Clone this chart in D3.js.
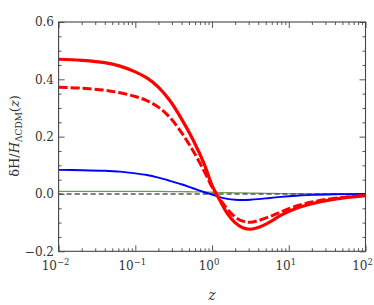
<!DOCTYPE html>
<html>
<head>
<meta charset="utf-8">
<script src="https://cdn.jsdelivr.net/npm/d3@7"></script>
<style>
  body { margin: 0; background: #fff; }
</style>
</head>
<body>
<svg id="chart" width="374" height="305"></svg>
<script>
// redshift grid (shared by all curves)
var zs = [0.01, 0.01995, 0.0398, 0.0631, 0.1, 0.1413, 0.1995, 0.2818, 0.3981, 0.5623, 0.7943, 1.0,
          1.259, 1.585, 1.995, 2.512, 3.162, 3.981, 5.623, 7.943, 12.59, 19.95, 39.81, 100]
var redSolid  = [0.470, 0.466, 0.458, 0.446, 0.426, 0.405, 0.373, 0.326, 0.263, 0.190, 0.103, 0.030,
                 -0.021, -0.068, -0.100, -0.118, -0.123, -0.117, -0.098, -0.074, -0.050, -0.034, -0.018, -0.006]
var redDashed = [0.372, 0.369, 0.362, 0.353, 0.340, 0.326, 0.303, 0.267, 0.215, 0.152, 0.078, 0.024,
                 -0.017, -0.053, -0.080, -0.095, -0.099, -0.093, -0.079, -0.062, -0.042, -0.028, -0.015, -0.005]
var blue      = [0.084, 0.083, 0.081, 0.078, 0.072, 0.066, 0.057, 0.046, 0.034, 0.020, 0.006, -0.002,
                 -0.011, -0.017, -0.020, -0.021, -0.020, -0.018, -0.014, -0.010, -0.006, -0.003, -0.001, 0]
var green     = [0.009, 0.009, 0.009, 0.009, 0.009, 0.009, 0.0088, 0.0085, 0.008, 0.0075, 0.007, 0.006,
                 0.005, 0.0045, 0.004, 0.0035, 0.003, 0.0025, 0.002, 0.0015, 0.001, 0.0006, 0.0003, 0]
var lcdm      = zs.map(function() { return 0 })

var xMajor = [0.01, 0.1, 1, 10, 100]
var xMajorExp = ["\u22122", "\u22121", "0", "1", "2"]
var yMajor = [-0.2, 0.0, 0.2, 0.4, 0.6]
var yMajorLabels = ["\u22120.2", "0.0", "0.2", "0.4", "0.6"]

var font = "DejaVu Serif"
var svg = d3.select("#chart")
var x = d3.scaleLog().domain([0.01, 100]).range([58.6, 365.5])
var y = d3.scaleLinear().domain([-0.2, 0.6]).range([251.3, 22])
var ink = "#444"

// minor ticks
var xMinor = []
xMajor.slice(0, -1).forEach(function(d) {
  for (var k = 2; k < 10; k++) xMinor.push(d * k)
})
var yMinor = d3.range(-0.2, 0.6001, 0.05).filter(function(v) {
  return Math.abs(v * 5 - Math.round(v * 5)) > 1e-6
})

function frameAxis(axis, transform, size, values) {
  var g = svg.append("g").attr("transform", transform)
    .call(axis.tickValues(values).tickSize(size).tickFormat(""))
  g.select(".domain").remove()
  g.selectAll("line").attr("stroke", ink).attr("stroke-width", 0.9)
}
frameAxis(d3.axisBottom(x), "translate(0,251.3)", -6, xMajor)
frameAxis(d3.axisBottom(x), "translate(0,251.3)", -3, xMinor)
frameAxis(d3.axisTop(x), "translate(0,22)", -6, xMajor)
frameAxis(d3.axisTop(x), "translate(0,22)", -3, xMinor)
frameAxis(d3.axisLeft(y), "translate(58.6,0)", -6, yMajor)
frameAxis(d3.axisLeft(y), "translate(58.6,0)", -3, yMinor)
frameAxis(d3.axisRight(y), "translate(365.5,0)", -6, yMajor)
frameAxis(d3.axisRight(y), "translate(365.5,0)", -3, yMinor)

// curves
var line = d3.line()
  .x(function(d) { return x(d[0]) })
  .y(function(d) { return y(d[1]) })
  .curve(d3.curveCatmullRom.alpha(0.5))
function draw(vals, color, width, dash) {
  svg.append("path")
    .datum(d3.zip(zs, vals))
    .attr("d", line)
    .attr("fill", "none")
    .attr("stroke", color)
    .attr("stroke-width", width)
    .attr("stroke-dasharray", dash || null)
}
draw(green, "#6f9a5e", 1.3)
draw(lcdm, "#555", 1.4, "5,3")
draw(blue, "#0000ff", 1.9)
draw(redDashed, "#ff0000", 3, "9,3")
draw(redSolid, "#ff0000", 3.2)

// frame
svg.append("rect")
  .attr("x", 58.6).attr("y", 22)
  .attr("width", 365.5 - 58.6).attr("height", 251.3 - 22)
  .attr("fill", "none").attr("stroke", ink).attr("stroke-width", 1.1)

// tick labels
svg.selectAll(".ylab").data(yMajor).enter().append("text")
  .attr("x", 54).attr("y", function(d) { return y(d) + 4.3 })
  .attr("text-anchor", "end").attr("font-size", 12)
  .style("font-family", font).attr("fill", "#333")
  .text(function(d, i) { return yMajorLabels[i] })

var xl = svg.selectAll(".xlab").data(xMajor).enter().append("text")
  .attr("x", function(d) { return x(d) - 3 }).attr("y", 269.5)
  .attr("text-anchor", "middle").attr("font-size", 12)
  .style("font-family", font).attr("fill", "#333")
xl.append("tspan").text("10")
xl.append("tspan").attr("dy", -5).attr("font-size", 8.5)
  .text(function(d, i) { return xMajorExp[i] })

// axis titles
svg.append("text").attr("x", 212).attr("y", 300)
  .attr("text-anchor", "middle").attr("font-size", 14).attr("font-style", "italic")
  .style("font-family", font).attr("fill", "#333")
  .text("z")

var yt = svg.append("text")
  .attr("transform", "translate(19,136) rotate(-90)")
  .attr("text-anchor", "middle").attr("font-size", 13)
  .style("font-family", font).attr("fill", "#333")
yt.append("tspan").text("\u03b4H/")
yt.append("tspan").attr("font-style", "italic").text("H")
yt.append("tspan").attr("font-size", 9).attr("dy", 3).text("\u039bCDM")
yt.append("tspan").attr("dy", -3).text("(")
yt.append("tspan").attr("font-style", "italic").text("z")
yt.append("tspan").text(")")
</script>
</body>
</html>
